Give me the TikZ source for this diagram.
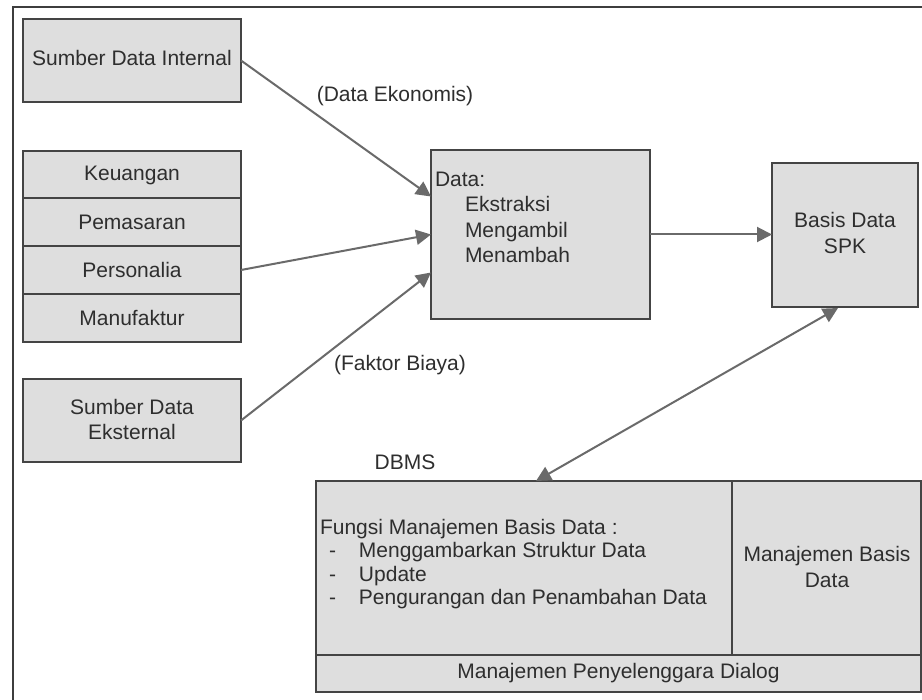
\documentclass[tikz,border=0pt]{standalone}
\usepackage{fontspec}
\setmainfont{Liberation Sans}
\usetikzlibrary{arrows.meta,calc}
\definecolor{boxfill}{HTML}{DEDEDE}
\definecolor{boxline}{HTML}{444444}
\definecolor{arrowc}{HTML}{6A6A6A}
\definecolor{txt}{HTML}{2E2E2E}
\begin{document}
\begin{tikzpicture}[x=1pt,y=-1pt,
  every node/.style={font=\fontsize{21}{25.5}\selectfont, text=txt, inner sep=0pt, outer sep=0pt},
  box/.style={draw=boxline, fill=boxfill, line width=2pt, anchor=north west, align=center},
  conn/.style={draw=arrowc, line width=2pt, -{Triangle[length=15pt,width=15pt]}},
  dconn/.style={draw=arrowc, line width=2pt, {Triangle[length=15pt,width=15pt]}-{Triangle[length=15pt,width=15pt]}}]
\useasboundingbox (0,0) rectangle (922,700);
\fill[white] (0,0) rectangle (922,700);
% outer frame
\draw[draw=boxline!90!black, line width=2.2pt] (13,720) -- (13,7) -- (930,7);
% sources
\node[box, minimum width=218pt, minimum height=83pt] (sdi) at (23,19) {};
\node (sdit) at (132,58) {Sumber Data Internal};
\node[box, minimum width=218pt, minimum height=48pt] (keu) at (23,151) {};
\node[box, minimum width=218pt, minimum height=48pt] (pem) at (23,198) {};
\node[box, minimum width=218pt, minimum height=48pt] (per) at (23,246) {};
\node[box, minimum width=218pt, minimum height=48pt] (man) at (23,294) {};
\node at (keu.center) (keut) {Keuangan};
\node at (pem.center) (pemt) {Pemasaran};
\node at (per.center) (pert) {Personalia};
\node at (man.center) (mant) {Manufaktur};
\node[box, minimum width=218pt, minimum height=83pt] (sde) at (23,379) {};
\node[align=center] at ($(sde.center)+(0,-1)$) (sdet) {Sumber Data\\Eksternal};
% data
\node[box, minimum width=219pt, minimum height=169pt] (data) at (431,150) {};
\node[anchor=north west, align=left] (datat) at (435,172) {Data:\\\hspace*{30pt}Ekstraksi\\\hspace*{30pt}Mengambil\\\hspace*{30pt}Menambah};
% basis data spk
\node[box, minimum width=146pt, minimum height=144pt] (spk) at (772,163) {};
\node[align=center] (spkt) at ($(spk.center)+(0,-2)$) {Basis Data\\SPK};
% DBMS
\node (dbmsl) at (405,462) {DBMS};
\node[box, minimum width=416pt, minimum height=174pt] (fungsi) at (316,481) {};
\node[box, minimum width=189pt, minimum height=174pt] (mbd) at (732,481) {};
\node[box, minimum width=605pt, minimum height=37pt] (dialog) at (316,655) {};
\node[anchor=west, align=left, font=\fontsize{21}{23.5}\selectfont] (fungsit) at (320,564) {Fungsi Manajemen Basis Data :\\
\hspace*{9pt}\makebox[30pt][l]{-}Menggambarkan Struktur Data\\
\hspace*{9pt}\makebox[30pt][l]{-}Update\\
\hspace*{9pt}\makebox[30pt][l]{-}Pengurangan dan Penambahan Data};
\node[align=center] (mbdt) at (827,567) {Manajemen Basis\\Data};
\node (dialogt) at (dialog.center) {Manajemen Penyelenggara Dialog};
% labels
\node (lde) at (395,96) {(Data Ekonomis)};
\node (lfb) at (400,365) {(Faktor Biaya)};
% connectors
\coordinate (in1) at ($(data.west)+(0,-38)$);
\coordinate (in3) at ($(data.west)+(0,38)$);
\coordinate (spkin) at (spk.west |- data.east);
\coordinate (spkb) at (838,308);
\coordinate (dbt) at (536,481);
\draw[conn] (sdi.east) -- (in1);
\draw[conn] (per.east) -- (data.west);
\draw[conn] (sde.east) -- (in3);
\draw[conn] (data.east) -- (spkin);
\draw[dconn] (dbt) -- (spkb);
\end{tikzpicture}
\end{document}
